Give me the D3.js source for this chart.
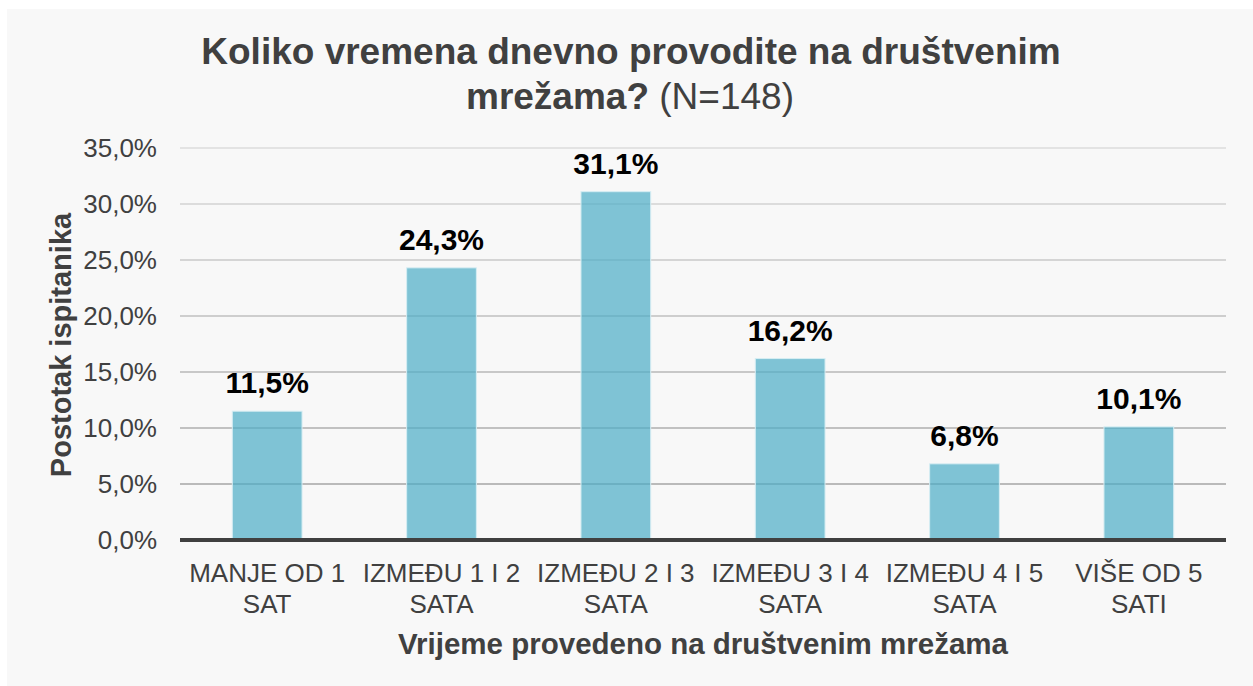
<!DOCTYPE html>
<html>
<head>
<meta charset="utf-8">
<script src="https://cdn.jsdelivr.net/npm/d3@7"></script>
<style>
  body { margin: 0; background: #fff; }
  svg { display: block; font-family: "Liberation Sans", Arial, sans-serif; }
</style>
</head>
<body>
<svg width="1253" height="686"></svg>
<script>
const categories = [
  ["MANJE OD 1", "SAT"],
  ["IZMEĐU 1 I 2", "SATA"],
  ["IZMEĐU 2 I 3", "SATA"],
  ["IZMEĐU 3 I 4", "SATA"],
  ["IZMEĐU 4 I 5", "SATA"],
  ["VIŠE OD 5", "SATI"],
];
const values = [11.5, 24.3, 31.1, 16.2, 6.8, 10.1];
const yTicks = [0, 5, 10, 15, 20, 25, 30, 35];

const svg = d3.select("svg");
const width = +svg.attr("width");
const height = +svg.attr("height");
const fmt = (v) => d3.format(".1f")(v).replace(".", ",") + "%";

// Background panel
svg
  .append("rect")
  .attr("x", 7)
  .attr("y", 9)
  .attr("width", width - 7)
  .attr("height", height - 9)
  .attr("fill", "#f8f8f8");

const xScale = d3
  .scaleBand()
  .domain(d3.range(categories.length))
  .range([180, 1226])
  .paddingInner(0.6)
  .paddingOuter(0.3);
const yScale = d3.scaleLinear().domain([0, 35]).range([540, 148]);

// Title
const title = svg
  .append("text")
  .attr("text-anchor", "middle")
  .attr("fill", "#404040")
  .style("font-size", "37px");
title
  .append("tspan")
  .attr("x", 631)
  .attr("y", 64)
  .style("font-weight", "bold")
  .text("Koliko vremena dnevno provodite na društvenim");
const line2 = title.append("tspan").attr("x", 630).attr("y", 109);
line2.append("tspan").style("font-weight", "bold").text("mrežama? ");
line2.append("tspan").text("(N=148)");

// Grid lines (fade a bit lighter towards the top)
const gridColor = d3.scaleLinear().domain([5, 35]).range(["#a6a6a6", "#dcdcdc"]);
svg
  .append("g")
  .selectAll("line")
  .data(yTicks.filter((t) => t > 0))
  .enter()
  .append("line")
  .attr("x1", 180)
  .attr("x2", 1226)
  .attr("y1", (d) => yScale(d))
  .attr("y2", (d) => yScale(d))
  .attr("stroke", (d) => gridColor(d))
  .attr("stroke-width", 1.5);

// Y axis
const yAxis = svg
  .append("g")
  .attr("transform", "translate(180,0)")
  .call(d3.axisLeft(yScale).tickValues(yTicks).tickSize(0).tickPadding(23).tickFormat(fmt));
yAxis.select(".domain").remove();
yAxis
  .selectAll("text")
  .attr("fill", "#404040")
  .style("font-size", "26px")
  .style("font-family", "Liberation Sans, Arial, sans-serif");

// Bars
svg
  .append("g")
  .selectAll("rect")
  .data(values)
  .enter()
  .append("rect")
  .attr("x", (d, i) => xScale(i))
  .attr("y", (d) => yScale(d))
  .attr("width", xScale.bandwidth())
  .attr("height", (d) => yScale(0) - yScale(d))
  .attr("fill", "#4bacc6")
  .attr("fill-opacity", 0.7)
  .attr("stroke", "#d6edf3")
  .attr("stroke-width", 1);

// Data labels
svg
  .append("g")
  .selectAll("text")
  .data(values)
  .enter()
  .append("text")
  .attr("x", (d, i) => xScale(i) + xScale.bandwidth() / 2)
  .attr("y", (d) => yScale(d) - 18)
  .attr("text-anchor", "middle")
  .attr("fill", "#000")
  .style("font-size", "30px")
  .style("font-weight", "bold")
  .text(fmt);

// X axis line
svg
  .append("line")
  .attr("x1", 180)
  .attr("x2", 1226)
  .attr("y1", yScale(0))
  .attr("y2", yScale(0))
  .attr("stroke", "#404040")
  .attr("stroke-width", 4);

// X labels
const xLabels = svg
  .append("g")
  .selectAll("text")
  .data(categories)
  .enter()
  .append("text")
  .attr("text-anchor", "middle")
  .attr("fill", "#404040")
  .style("font-size", "26px");
xLabels
  .selectAll("tspan")
  .data((d, i) => d.map((t) => [t, i]))
  .enter()
  .append("tspan")
  .attr("x", (d) => xScale(d[1]) + xScale.bandwidth() / 2)
  .attr("y", (d, j) => 582 + j * 31)
  .text((d) => d[0]);

// X title
svg
  .append("text")
  .attr("x", 703)
  .attr("y", 654)
  .attr("text-anchor", "middle")
  .attr("fill", "#404040")
  .style("font-size", "29.5px")
  .style("font-weight", "bold")
  .text("Vrijeme provedeno na društvenim mrežama");

// Y title
svg
  .append("text")
  .attr("text-anchor", "middle")
  .attr("transform", "translate(71,345)rotate(-90)")
  .attr("fill", "#404040")
  .style("font-size", "29px")
  .style("font-weight", "bold")
  .text("Postotak ispitanika");
</script>
</body>
</html>
